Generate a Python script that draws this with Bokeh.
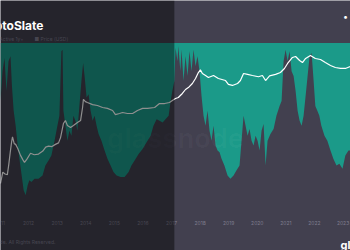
from bokeh.plotting import figure
from bokeh.models import Range1d, LogScale, Label, BoxAnnotation
from bokeh.core.properties import value
from bokeh.embed import file_html
from bokeh.resources import INLINE

# ---- data ----
metric_dates = [2011.02, 2011.09, 2011.16, 2011.23, 2011.30, 2011.37, 2011.42, 2011.48, 2011.55, 2011.62,
                2011.69, 2011.76, 2011.83, 2011.90, 2011.97, 2012.03, 2012.10, 2012.21, 2012.35, 2012.49,
                2012.59, 2012.70, 2012.80, 2012.91, 2013.01, 2013.08, 2013.15, 2013.19, 2013.22, 2013.29,
                2013.36, 2013.43, 2013.50, 2013.57, 2013.64, 2013.71, 2013.78, 2013.85, 2013.91, 2013.96,
                2014.03, 2014.10, 2014.17, 2014.24, 2014.31, 2014.38, 2014.45, 2014.55, 2014.66, 2014.76,
                2014.87, 2014.97, 2015.08, 2015.22, 2015.36, 2015.50, 2015.60, 2015.71, 2015.85, 2015.99,
                2016.13, 2016.27, 2016.37, 2016.48, 2016.58, 2016.69, 2016.79, 2016.90, 2016.97, 2017.03,
                2017.10, 2017.14, 2017.21, 2017.24, 2017.31, 2017.35, 2017.42, 2017.49, 2017.56, 2017.63,
                2017.70, 2017.77, 2017.84, 2017.91, 2017.98, 2018.05, 2018.12, 2018.19, 2018.26, 2018.33,
                2018.40, 2018.47, 2018.54, 2018.61, 2018.68, 2018.75, 2018.85, 2018.96, 2019.06, 2019.17,
                2019.27, 2019.38, 2019.45, 2019.52, 2019.59, 2019.66, 2019.73, 2019.80, 2019.87, 2019.94,
                2020.01, 2020.08, 2020.15, 2020.22, 2020.29, 2020.36, 2020.46, 2020.57, 2020.67, 2020.78,
                2020.85, 2020.92, 2020.99, 2021.06, 2021.13, 2021.20, 2021.27, 2021.34, 2021.41, 2021.48,
                2021.55, 2021.62, 2021.69, 2021.76, 2021.83, 2021.90, 2021.97, 2022.03, 2022.10, 2022.17,
                2022.24, 2022.35, 2022.45, 2022.56, 2022.66, 2022.77, 2022.87, 2022.98, 2023.08, 2023.19,
                2023.26]
metric_values = [65, 83, 91, 71, 89, 92, 74, 59, 50, 38,
                 29, 20, 11, 8, 14, 17, 16, 18, 18, 20,
                 26, 29, 32, 41, 50, 56, 95, 96, 59, 50,
                 41, 47, 44, 56, 53, 47, 62, 77, 88, 80,
                 67, 69, 59, 53, 56, 50, 45, 41, 35, 30,
                 26, 22, 20, 19, 19, 22, 26, 29, 33, 36,
                 40, 44, 50, 54, 53, 52, 54, 56, 65, 71,
                 77, 97, 89, 98, 83, 96, 77, 92, 80, 95,
                 83, 96, 86, 92, 83, 68, 56, 50, 59, 47,
                 41, 50, 38, 35, 34, 30, 26, 20, 18, 20,
                 23, 26, 41, 56, 50, 44, 48, 41, 38, 44,
                 41, 35, 47, 51, 26, 41, 45, 48, 56, 62,
                 65, 89, 96, 89, 95, 83, 80, 71, 59, 53,
                 50, 56, 68, 80, 92, 94, 77, 62, 59, 56,
                 50, 44, 41, 35, 30, 26, 27, 24, 32, 35,
                 35]

price_dates = [2011.02, 2011.10, 2011.18, 2011.26, 2011.31, 2011.36, 2011.41, 2011.44, 2011.50, 2011.55,
               2011.62, 2011.72, 2011.80, 2011.86, 2011.95, 2012.07, 2012.20, 2012.35, 2012.50, 2012.60,
               2012.70, 2012.82, 2012.94, 2013.05, 2013.12, 2013.22, 2013.29, 2013.36, 2013.47, 2013.57,
               2013.71, 2013.82, 2013.89, 2013.92, 2013.99, 2014.06, 2014.24, 2014.41, 2014.59, 2014.76,
               2014.94, 2015.04, 2015.18, 2015.29, 2015.46, 2015.64, 2015.81, 2015.99, 2016.16, 2016.41,
               2016.58, 2016.76, 2016.93, 2017.03, 2017.14, 2017.24, 2017.38, 2017.49, 2017.59, 2017.73,
               2017.84, 2017.94, 2018.01, 2018.08, 2018.19, 2018.29, 2018.47, 2018.64, 2018.89, 2018.99,
               2019.13, 2019.31, 2019.41, 2019.52, 2019.66, 2019.83, 2020.04, 2020.18, 2020.29, 2020.43,
               2020.64, 2020.81, 2020.95, 2021.06, 2021.23, 2021.34, 2021.48, 2021.58, 2021.69, 2021.86,
               2022.03, 2022.21, 2022.38, 2022.56, 2022.73, 2022.91, 2023.08, 2023.26]
price_values = [0.30, 0.90, 0.75, 0.70, 1.9, 6, 17, 27, 14, 13,
                9, 4.5, 3, 2.3, 3.2, 5.5, 4.8, 5.1, 6.8, 10,
                11, 10.5, 13, 15, 25, 97, 129, 80, 66, 80,
                107, 129, 455, 1000, 800, 735, 600, 550, 455, 415,
                340, 230, 255, 280, 255, 255, 340, 415, 415, 455,
                665, 665, 735, 890, 1080, 1190, 1750, 2570, 3100, 4600,
                7400, 13200, 17000, 12000, 9900, 8200, 9900, 7400, 6100, 4200,
                3800, 4600, 6100, 12000, 11000, 9900, 8800, 9900, 6100, 9500,
                11000, 13200, 19500, 31500, 56100, 61800, 42000, 34600, 51000, 68000,
                51000, 46300, 34600, 25900, 21400, 19500, 19500, 23600]

year_ticks = [2011, 2012, 2013, 2014, 2015, 2016, 2017, 2018, 2019, 2020, 2021, 2022, 2023]
year_labels = [str(y) for y in year_ticks]

BG = "#42404f"
TEAL = "#1b9a89"

p = figure(width=350, height=250, output_backend="svg", toolbar_location=None,
           x_range=Range1d(2011.02, 2023.26), y_range=Range1d(-25.4, 125.7),
           x_axis_location=None, y_axis_location=None, min_border=0)
p.background_fill_color = BG
p.border_fill_color = BG
p.outline_line_color = None
p.xgrid.visible = False
p.ygrid.visible = False
p.extra_y_ranges = {"price": Range1d(4.72e-4, 1.36e7)}
p.extra_y_scales = {"price": LogScale()}

p.varea(x=metric_dates, y1=metric_values, y2=100, fill_color=TEAL)
p.line(price_dates, price_values, y_range_name="price", line_color="white", line_width=1.2)

p.text(x=year_ticks, y=-8.5, text=year_labels, text_font=value("Inter"), text_font_size="5px",
       text_color="#7e7c8e", text_align="center", text_baseline="middle")

# legend / watermark / footer
p.add_layout(Label(x=23, y=212, x_units="screen", y_units="screen", text="Supply Last Active 1y+",
                   text_font="Inter", text_font_size="5px", text_color="#7e7c8e",
                   text_align="right", text_baseline="middle"))
p.add_layout(Label(x=34, y=212, x_units="screen", y_units="screen", text="\u25A0 Price (USD)",
                   text_font="Inter", text_font_size="5px", text_color="#7e7c8e",
                   text_align="left", text_baseline="middle"))
p.add_layout(Label(x=175, y=112, x_units="screen", y_units="screen", text="glassnode",
                   text_font="Inter", text_font_size="27px", text_font_style="bold",
                   text_color="white", text_alpha=0.03, text_align="center", text_baseline="alphabetic"))
p.add_layout(Label(x=55, y=9, x_units="screen", y_units="screen",
                   text="\u00A9 2023 Glassnode. All Rights Reserved.",
                   text_font="Inter", text_font_size="5px", text_color="#7e7c8e",
                   text_align="right", text_baseline="middle"))

p.add_layout(BoxAnnotation(right=2017.10, fill_color="black", fill_alpha=0.44, line_color=None))

p.add_layout(Label(x=-27, y=225, x_units="screen", y_units="screen", text="CryptoSlate",
                   text_font="Inter", text_font_size="12px", text_font_style="bold",
                   text_color="white", text_baseline="alphabetic"))
p.add_layout(Label(x=340, y=6, x_units="screen", y_units="screen", text="glassnode",
                   text_font="Inter", text_font_size="11px", text_font_style="bold",
                   text_color="white", text_baseline="alphabetic"))
p.add_layout(Label(x=345, y=234, x_units="screen", y_units="screen", text="\u2022",
                   text_font="Inter", text_font_size="9px",
                   text_color="white", text_align="center", text_baseline="middle"))

open("out.html", "w").write(file_html(p, INLINE))
